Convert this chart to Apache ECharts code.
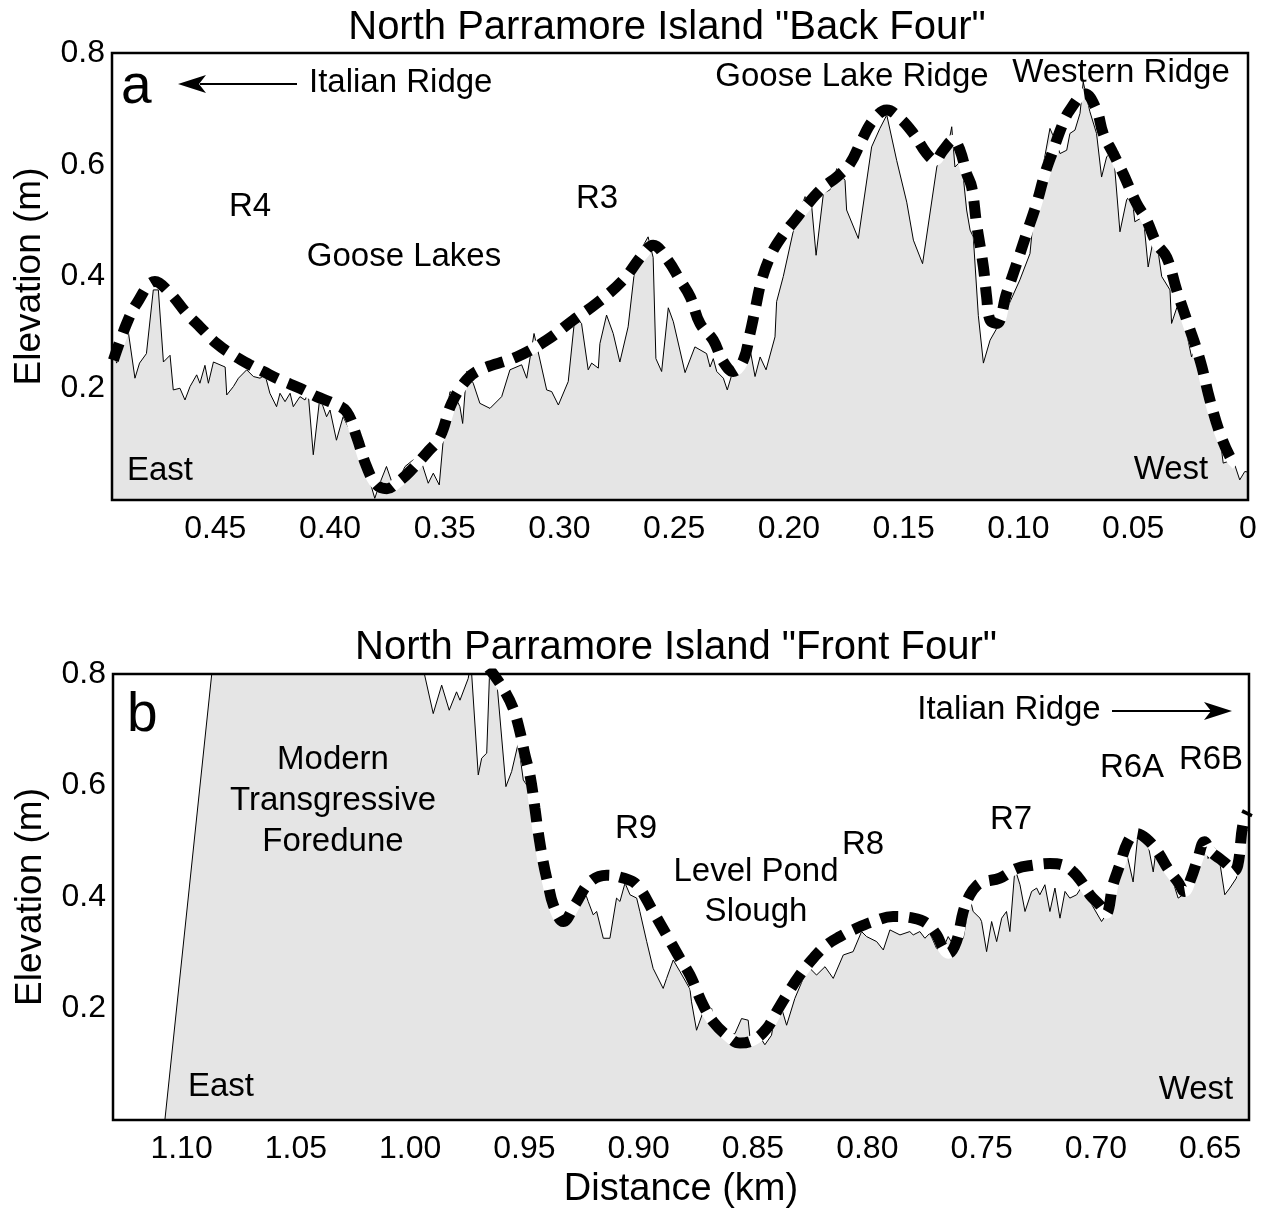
<!DOCTYPE html>
<html>
<head>
<meta charset="utf-8">
<script src="https://cdn.jsdelivr.net/npm/echarts@6/dist/echarts.min.js"></script>
<style>
  html, body { margin: 0; padding: 0; background: #fff; }
  #chart { width: 1271px; height: 1210px; }
</style>
</head>
<body>
<div id="chart"></div>
<script>
// "Back Four" profile (distance km, elevation m)
const backDist = [0.495, 0.493, 0.488, 0.485, 0.483, 0.480, 0.477, 0.4748, 0.4726, 0.4697, 0.4683, 0.4654, 0.4632, 0.461, 0.4581, 0.4567, 0.4545, 0.453, 0.4508, 0.4457, 0.445, 0.4421, 0.4399, 0.4363, 0.4334, 0.4305, 0.4283, 0.4262, 0.4233, 0.4218, 0.4196, 0.4174, 0.416, 0.4131, 0.4109, 0.4095, 0.4073, 0.4044, 0.403, 0.4015, 0.4, 0.3972, 0.3943, 0.3899, 0.387, 0.3841, 0.3805, 0.3783, 0.3754, 0.3733, 0.3717, 0.3673, 0.3637, 0.36, 0.3572, 0.355, 0.3524, 0.3499, 0.3477, 0.3455, 0.3434, 0.3422, 0.3405, 0.3376, 0.3347, 0.3303, 0.3252, 0.3216, 0.3165, 0.3143, 0.3111, 0.3056, 0.3034, 0.3005, 0.2962, 0.2933, 0.2904, 0.2875, 0.286, 0.2831, 0.2824, 0.2795, 0.2766, 0.2737, 0.2701, 0.2667, 0.2614, 0.2592, 0.258, 0.2555, 0.2526, 0.2504, 0.2453, 0.241, 0.2359, 0.2344, 0.233, 0.2315, 0.2286, 0.2269, 0.2243, 0.2199, 0.2177, 0.2148, 0.2126, 0.21, 0.2061, 0.2054, 0.2025, 0.1974, 0.193, 0.1901, 0.1882, 0.185, 0.1822, 0.1792, 0.1756, 0.1749, 0.1698, 0.164, 0.1604, 0.1574, 0.1531, 0.1487, 0.1458, 0.1418, 0.1356, 0.1328, 0.1302, 0.1291, 0.1277, 0.1248, 0.1226, 0.1211, 0.1197, 0.1175, 0.1153, 0.1124, 0.1066, 0.0994, 0.095, 0.0936, 0.0907, 0.0863, 0.0841, 0.0819, 0.079, 0.0776, 0.0754, 0.0732, 0.0718, 0.0689, 0.066, 0.0638, 0.0616, 0.0587, 0.0558, 0.0529, 0.0507, 0.0493, 0.0456, 0.0435, 0.0405, 0.0376, 0.034, 0.0333, 0.0304, 0.0282, 0.0246, 0.0224, 0.0195, 0.0166, 0.013, 0.0108, 0.0065, 0.0036, 0.0014, 0];
const backElev = [0.286, 0.245, 0.304, 0.218, 0.245, 0.262, 0.376, 0.376, 0.247, 0.259, 0.197, 0.2, 0.179, 0.203, 0.224, 0.209, 0.241, 0.209, 0.247, 0.238, 0.188, 0.203, 0.218, 0.233, 0.221, 0.218, 0.224, 0.191, 0.167, 0.191, 0.176, 0.191, 0.167, 0.185, 0.179, 0.191, 0.081, 0.185, 0.167, 0.149, 0.161, 0.107, 0.149, 0.113, 0.077, 0.054, 0.003, 0.03, 0.06, 0.035, 0.024, 0.06, 0.072, 0.066, 0.03, 0.048, 0.027, 0.143, 0.194, 0.185, 0.167, 0.137, 0.23, 0.209, 0.173, 0.164, 0.185, 0.233, 0.242, 0.218, 0.298, 0.197, 0.194, 0.17, 0.212, 0.328, 0.316, 0.233, 0.245, 0.236, 0.28, 0.331, 0.298, 0.247, 0.31, 0.432, 0.471, 0.434, 0.253, 0.23, 0.344, 0.319, 0.228, 0.274, 0.262, 0.238, 0.253, 0.23, 0.218, 0.197, 0.233, 0.268, 0.286, 0.221, 0.256, 0.233, 0.292, 0.355, 0.4, 0.495, 0.543, 0.525, 0.438, 0.549, 0.555, 0.593, 0.572, 0.519, 0.468, 0.632, 0.665, 0.689, 0.608, 0.533, 0.465, 0.423, 0.596, 0.632, 0.644, 0.668, 0.596, 0.608, 0.519, 0.483, 0.471, 0.33, 0.245, 0.286, 0.328, 0.394, 0.441, 0.501, 0.566, 0.665, 0.644, 0.62, 0.626, 0.656, 0.662, 0.692, 0.748, 0.695, 0.656, 0.578, 0.614, 0.626, 0.48, 0.537, 0.549, 0.498, 0.507, 0.417, 0.483, 0.4, 0.376, 0.316, 0.352, 0.328, 0.256, 0.28, 0.228, 0.179, 0.137, 0.066, 0.072, 0.036, 0.051, 0.05];
const backTrendDist = [0.4944, 0.4886, 0.4842, 0.4763, 0.4697, 0.4625, 0.4567, 0.4494, 0.4421, 0.4349, 0.4291, 0.4218, 0.4131, 0.4058, 0.3986, 0.3928, 0.3884, 0.3841, 0.3797, 0.3752, 0.371, 0.3652, 0.3579, 0.3521, 0.347, 0.3405, 0.3347, 0.3187, 0.3056, 0.294, 0.2838, 0.2722, 0.2635, 0.2592, 0.2533, 0.2475, 0.2431, 0.2388, 0.233, 0.2286, 0.2243, 0.2199, 0.217, 0.2148, 0.2119, 0.2076, 0.2032, 0.1974, 0.1916, 0.185, 0.1792, 0.1734, 0.1683, 0.1633, 0.1574, 0.1516, 0.1458, 0.14, 0.1364, 0.1328, 0.1284, 0.1255, 0.1226, 0.1204, 0.1183, 0.1153, 0.1139, 0.1124, 0.1095, 0.1052, 0.1008, 0.0965, 0.0921, 0.0885, 0.0849, 0.0806, 0.0776, 0.0711, 0.066, 0.0631, 0.0587, 0.0544, 0.0486, 0.0442, 0.0398, 0.0354, 0.0311, 0.0267, 0.0209, 0.0166, 0.0122, 0.0078, 0.005];
const backTrendElev = [0.25, 0.316, 0.352, 0.391, 0.37, 0.334, 0.31, 0.28, 0.259, 0.242, 0.23, 0.215, 0.2, 0.185, 0.173, 0.158, 0.113, 0.06, 0.027, 0.02, 0.03, 0.051, 0.084, 0.113, 0.173, 0.215, 0.233, 0.256, 0.286, 0.322, 0.352, 0.394, 0.441, 0.456, 0.432, 0.394, 0.364, 0.316, 0.286, 0.247, 0.23, 0.25, 0.298, 0.34, 0.394, 0.441, 0.471, 0.501, 0.531, 0.56, 0.578, 0.602, 0.644, 0.68, 0.698, 0.683, 0.656, 0.62, 0.608, 0.626, 0.644, 0.626, 0.584, 0.56, 0.495, 0.417, 0.364, 0.322, 0.316, 0.37, 0.423, 0.477, 0.531, 0.584, 0.626, 0.674, 0.698, 0.727, 0.698, 0.656, 0.62, 0.584, 0.531, 0.501, 0.459, 0.434, 0.376, 0.322, 0.25, 0.179, 0.119, 0.077, 0.063];

// "Front Four" profile (distance km, elevation m)
const frontDist = [1.1073, 1.0868, 1.0817, 1.05, 1.02, 1.0, 0.9943, 0.9899, 0.9862, 0.9829, 0.9797, 0.9782, 0.9746, 0.9734, 0.9702, 0.9687, 0.9665, 0.9651, 0.963, 0.9581, 0.9556, 0.9527, 0.9505, 0.9461, 0.9425, 0.9403, 0.9359, 0.933, 0.9293, 0.9257, 0.9243, 0.9221, 0.9199, 0.9184, 0.9155, 0.9126, 0.9097, 0.9082, 0.906, 0.9038, 0.9009, 0.8995, 0.8965, 0.8937, 0.8893, 0.8878, 0.8849, 0.8819, 0.8776, 0.8769, 0.8747, 0.8718, 0.8696, 0.8681, 0.8667, 0.8637, 0.8601, 0.8579, 0.855, 0.8521, 0.8513, 0.8484, 0.8448, 0.8419, 0.8404, 0.8383, 0.8353, 0.8317, 0.828, 0.8251, 0.8222, 0.8185, 0.8149, 0.8105, 0.8062, 0.8025, 0.8003, 0.7959, 0.793, 0.7901, 0.7857, 0.7814, 0.7799, 0.777, 0.7748, 0.7726, 0.7697, 0.7675, 0.7646, 0.7624, 0.758, 0.7551, 0.7537, 0.7507, 0.75, 0.7478, 0.7456, 0.7434, 0.7412, 0.7391, 0.7376, 0.7354, 0.7332, 0.731, 0.7281, 0.7259, 0.7245, 0.7223, 0.7201, 0.7179, 0.7157, 0.7135, 0.7114, 0.7084, 0.7048, 0.7026, 0.6975, 0.6946, 0.6909, 0.6873, 0.6837, 0.6815, 0.6793, 0.6771, 0.6749, 0.6734, 0.6705, 0.6676, 0.664, 0.6618, 0.6589, 0.6545, 0.6523, 0.6509, 0.6487, 0.6465, 0.6436, 0.6414, 0.6385, 0.637, 0.6348, 0.6332];
const frontElev = [0, 0.8, 1.0, 1.3, 1.2, 0.95, 0.81, 0.729, 0.78, 0.735, 0.768, 0.753, 0.792, 0.82, 0.619, 0.649, 0.658, 0.82, 0.83, 0.598, 0.625, 0.676, 0.61, 0.583, 0.517, 0.445, 0.368, 0.362, 0.386, 0.41, 0.418, 0.392, 0.368, 0.374, 0.326, 0.326, 0.398, 0.392, 0.425, 0.404, 0.398, 0.374, 0.32, 0.272, 0.236, 0.254, 0.287, 0.266, 0.235, 0.212, 0.161, 0.194, 0.188, 0.2, 0.17, 0.152, 0.152, 0.155, 0.182, 0.179, 0.147, 0.158, 0.135, 0.152, 0.188, 0.212, 0.17, 0.218, 0.254, 0.272, 0.26, 0.275, 0.254, 0.296, 0.302, 0.338, 0.329, 0.32, 0.305, 0.341, 0.332, 0.338, 0.332, 0.338, 0.326, 0.335, 0.308, 0.302, 0.329, 0.314, 0.326, 0.398, 0.374, 0.362, 0.356, 0.302, 0.356, 0.32, 0.362, 0.374, 0.338, 0.451, 0.422, 0.374, 0.41, 0.416, 0.404, 0.422, 0.374, 0.416, 0.362, 0.41, 0.398, 0.404, 0.427, 0.392, 0.356, 0.374, 0.445, 0.493, 0.427, 0.517, 0.514, 0.493, 0.445, 0.493, 0.481, 0.445, 0.398, 0.404, 0.434, 0.499, 0.505, 0.469, 0.49, 0.481, 0.404, 0.416, 0.434, 0.481, 0.517, 0.52];
const frontTrendDist = [0.9655, 0.9593, 0.9549, 0.952, 0.9498, 0.9476, 0.9454, 0.944, 0.9418, 0.9396, 0.9374, 0.933, 0.9279, 0.9213, 0.914, 0.9068, 0.9009, 0.8937, 0.8878, 0.882, 0.8776, 0.8718, 0.8674, 0.8615, 0.8557, 0.8499, 0.844, 0.8397, 0.8353, 0.8295, 0.8237, 0.8178, 0.812, 0.8047, 0.7974, 0.7887, 0.7799, 0.7741, 0.7697, 0.7668, 0.7646, 0.761, 0.758, 0.7551, 0.7522, 0.7493, 0.742, 0.7347, 0.7274, 0.7201, 0.7142, 0.7099, 0.7062, 0.7026, 0.6984, 0.6955, 0.6925, 0.6896, 0.686, 0.6824, 0.678, 0.6729, 0.6685, 0.6641, 0.6612, 0.6583, 0.6554, 0.6525, 0.6496, 0.6459, 0.6423, 0.6401, 0.6379, 0.6357, 0.6335];
const frontTrendElev = [0.81, 0.774, 0.738, 0.697, 0.655, 0.619, 0.559, 0.517, 0.463, 0.422, 0.386, 0.356, 0.386, 0.427, 0.439, 0.434, 0.422, 0.374, 0.332, 0.29, 0.26, 0.206, 0.176, 0.152, 0.138, 0.143, 0.164, 0.194, 0.224, 0.26, 0.29, 0.314, 0.329, 0.344, 0.356, 0.365, 0.362, 0.353, 0.332, 0.308, 0.299, 0.32, 0.374, 0.404, 0.42, 0.427, 0.434, 0.451, 0.457, 0.46, 0.457, 0.445, 0.427, 0.404, 0.386, 0.371, 0.422, 0.457, 0.499, 0.514, 0.505, 0.481, 0.451, 0.427, 0.41, 0.434, 0.469, 0.499, 0.481, 0.469, 0.457, 0.445, 0.457, 0.529, 0.553];

const FONT = '"Liberation Sans", Arial, sans-serif';
const FILL = "#e5e5e5";
const NOTE = 33; // annotation size

function pairs(xs, ys) {
  return xs.map((x, i) => [x, ys[i]]);
}

// only label the 0.05 steps, not the extent ends
function distLabel(v) {
  const k = v / 0.05;
  if (Math.abs(k - Math.round(k)) > 1e-6) return "";
  return v === 0 ? "0" : v.toFixed(2);
}

function txt(x, y, text, size, align) {
  return {
    type: "text",
    x: x,
    y: y,
    z: 100,
    style: {
      text: text,
      font: size + "px " + FONT,
      fill: "#000",
      align: align || "center",
      verticalAlign: "middle"
    }
  };
}

function xAxisOf(gridIndex, extra) {
  return Object.assign({
    gridIndex: gridIndex,
    type: "value",
    inverse: true,
    axisLine: { show: false },
    axisTick: { show: false },
    splitLine: { show: false },
    axisLabel: {
      margin: 13,
      fontSize: 32,
      fontFamily: FONT,
      color: "#000",
      formatter: distLabel
    }
  }, extra);
}

function yAxisOf(gridIndex) {
  return {
    gridIndex: gridIndex,
    type: "value",
    min: 0,
    max: 0.8,
    interval: 0.2,
    name: "Elevation (m)",
    nameLocation: "middle",
    nameGap: 64,
    nameTextStyle: { fontSize: 37, fontFamily: FONT, color: "#000" },
    axisLine: { show: false },
    axisTick: { show: false },
    splitLine: { show: false },
    axisLabel: {
      margin: 7,
      fontSize: 32,
      fontFamily: FONT,
      color: "#000",
      formatter: v => (v === 0 ? "" : v.toFixed(1))
    }
  };
}

function profileSeries(axisIndex, dist, elev) {
  return {
    type: "line",
    xAxisIndex: axisIndex,
    yAxisIndex: axisIndex,
    data: pairs(dist, elev),
    symbol: "none",
    lineStyle: { color: "#000", width: 1 },
    areaStyle: { color: FILL, opacity: 1 },
    z: 2
  };
}

function trendSeries(axisIndex, dist, elev) {
  const base = {
    type: "line",
    xAxisIndex: axisIndex,
    yAxisIndex: axisIndex,
    data: pairs(dist, elev),
    symbol: "none",
    smooth: 0.4
  };
  return [
    Object.assign({}, base, { z: 3, lineStyle: { color: "#fff", width: 11 } }),
    Object.assign({}, base, {
      z: 4,
      lineStyle: { color: "#000", width: 11, type: [18, 11], cap: "butt" }
    })
  ];
}

const chart = echarts.init(document.getElementById("chart"));

const option = {
  animation: false,
  backgroundColor: "#fff",
  grid: [
    { left: 112, top: 53, width: 1136, height: 447, show: true, z: 10,
      borderColor: "#000", borderWidth: 2.5, backgroundColor: "transparent" },
    { left: 113, top: 674, width: 1136, height: 446, show: true, z: 10,
      borderColor: "#000", borderWidth: 2.5, backgroundColor: "transparent" }
  ],
  xAxis: [
    xAxisOf(0, { min: 0, max: 0.495, interval: 0.05 }),
    xAxisOf(1, {
      min: 0.633, max: 1.13, splitNumber: 10,
      name: "Distance (km)",
      nameLocation: "middle",
      nameGap: 51,
      nameTextStyle: { fontSize: 38, fontFamily: FONT, color: "#000" }
    })
  ],
  yAxis: [yAxisOf(0), yAxisOf(1)],
  series: [
    profileSeries(0, backDist, backElev),
    ...trendSeries(0, backTrendDist, backTrendElev),
    profileSeries(1, frontDist, frontElev),
    ...trendSeries(1, frontTrendDist, frontTrendElev)
  ],
  graphic: [
    txt(667, 28, 'North Parramore Island "Back Four"', 40),
    txt(676, 648, 'North Parramore Island "Front Four"', 40),
    // panel a
    txt(121, 88, "a", 55, "left"),
    { type: "line", z: 100, shape: { x1: 200, y1: 84, x2: 297, y2: 84 },
      style: { stroke: "#000", lineWidth: 2 } },
    { type: "polygon", z: 100, shape: { points: [[178, 84], [206, 75], [199, 84], [206, 93]] },
      style: { fill: "#000" } },
    txt(309, 83, "Italian Ridge", NOTE, "left"),
    txt(250, 207, "R4", NOTE),
    txt(404, 257, "Goose Lakes", NOTE),
    txt(597, 199, "R3", NOTE),
    txt(852, 77, "Goose Lake Ridge", NOTE),
    txt(1121, 73, "Western Ridge", NOTE),
    txt(160, 471, "East", NOTE),
    txt(1171, 470, "West", NOTE),
    // panel b
    txt(127, 716, "b", 55, "left"),
    txt(1009, 710, "Italian Ridge", NOTE),
    { type: "line", z: 100, shape: { x1: 1112, y1: 711, x2: 1212, y2: 711 },
      style: { stroke: "#000", lineWidth: 2 } },
    { type: "polygon", z: 100, shape: { points: [[1232, 711], [1204, 702], [1211, 711], [1204, 720]] },
      style: { fill: "#000" } },
    txt(333, 760, "Modern", NOTE),
    txt(333, 801, "Transgressive", NOTE),
    txt(333, 842, "Foredune", NOTE),
    txt(636, 829, "R9", NOTE),
    txt(756, 872, "Level Pond", NOTE),
    txt(756, 912, "Slough", NOTE),
    txt(863, 845, "R8", NOTE),
    txt(1011, 820, "R7", NOTE),
    txt(1132, 768, "R6A", NOTE),
    txt(1211, 760, "R6B", NOTE),
    txt(221, 1087, "East", NOTE),
    txt(1196, 1090, "West", NOTE)
  ]
};

chart.setOption(option);
window.addEventListener("resize", () => chart.resize());
</script>
</body>
</html>
